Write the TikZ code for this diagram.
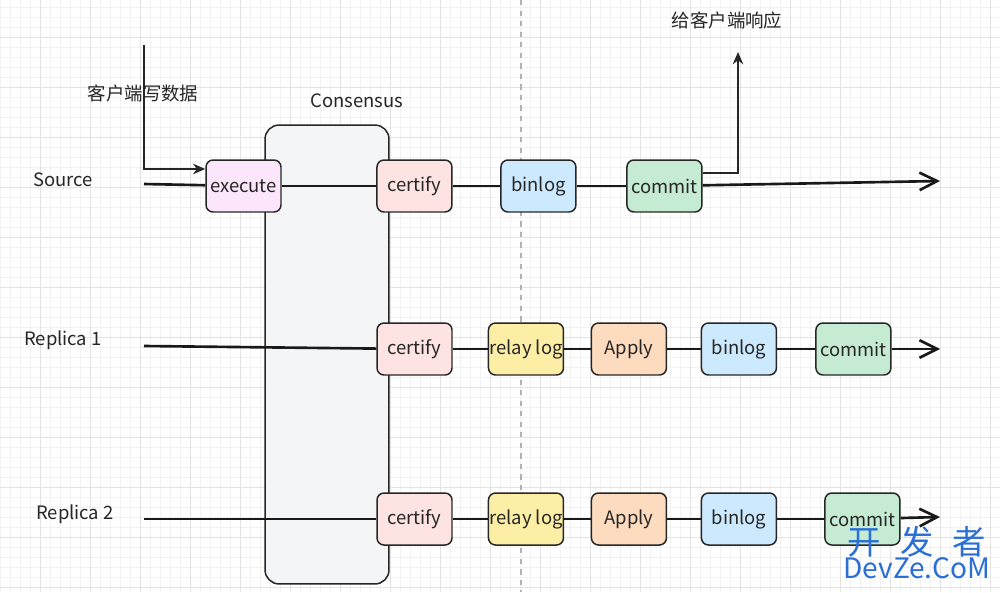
\documentclass[tikz,border=0pt]{standalone}
\usepackage{fontspec}
\setmainfont{Noto Sans CJK SC}
\usetikzlibrary{positioning,arrows.meta}
\definecolor{txt}{HTML}{262626}
\definecolor{exfill}{HTML}{FCE6FB}
\definecolor{certfill}{HTML}{FDE4E2}
\definecolor{binfill}{HTML}{CDE9FD}
\definecolor{comfill}{HTML}{C6EBD3}
\definecolor{relayfill}{HTML}{FDEEA6}
\definecolor{applyfill}{HTML}{FDDBBF}
\definecolor{consfill}{HTML}{F3F5F7}
\definecolor{wmblue}{HTML}{2A6FD6}

\begin{document}
\begin{tikzpicture}[x=0.02cm,y=-0.02cm,on grid,
  font=\fontsize{10.5}{12}\selectfont,
  stage/.style={draw=txt,line width=0.85pt,rounded corners=4pt,minimum width=1.5cm,
    minimum height=1.04cm,inner sep=0pt,text=txt},
  lbl/.style={text=txt,inner sep=0pt},
  flow/.style={line width=1.5pt,draw=black!90},
  thinarrow/.style={line width=0.8pt,draw=txt,-{Stealth[length=7pt,width=6pt]}},
  gridminor/.style={draw=black!5,line width=0.4pt},
  gridmajor/.style={draw=black!11,line width=0.5pt}]
\useasboundingbox (0,0) rectangle (1000,592);
\fill[white] (0,0) rectangle (1000,592);
% background grid
\foreach \x in {0,10,...,1000} \draw[gridminor] (\x,0) -- (\x,592);
\foreach \y in {7,17,...,587} \draw[gridminor] (0,\y) -- (1000,\y);
\foreach \x in {40,90,...,990} \draw[gridmajor] (\x,0) -- (\x,592);
\foreach \y in {37,87,...,587} \draw[gridmajor] (0,\y) -- (1000,\y);
\draw[black!30,dashed,line width=0.6pt] (521,0) -- (521,592);

% consensus block
\node[draw=txt,line width=0.85pt,fill=consfill,rounded corners=8pt,minimum width=2.48cm,
  minimum height=9.18cm] (cons) at (327,354.5) {};
\node[lbl] (cons_l) at (357,101) {Consensus};

% source
\node[lbl] (src) at (63,180) {Source};
\node[stage,fill=exfill] (s_0) at (243.5,186) {execute};
\node[stage,fill=certfill] (s_1) [right=3.42cm of s_0] {certify};
\node[stage,fill=binfill] (s_2) [right=2.48cm of s_1] {binlog};
\node[stage,fill=comfill] (s_3) [right=2.52cm of s_2] {commit};
\coordinate (s_in) at (144,184);
\coordinate (s_out) at (940,181);

% replica 1
\node[lbl] (r1) at (63,340) {Replica 1};
\node[stage,fill=certfill] (a_1) at (414.5,349) {certify};
\node[stage,fill=relayfill] (a_2) [right=2.23cm of a_1] {relay log};
\node[stage,fill=applyfill] (a_3) [right=2.06cm of a_2] {Apply};
\node[stage,fill=binfill] (a_4) [right=2.2cm of a_3] {binlog};
\node[stage,fill=comfill] (a_5) [right=2.29cm of a_4] {commit};
\coordinate (a_in) at (144,346);
\coordinate (a_out) at (940,349);

% replica 2
\node[lbl] (r2) at (75,514) {Replica 2};
\node[stage,fill=certfill] (b_1) at (414.5,519) {certify};
\node[stage,fill=relayfill] (b_2) [right=2.23cm of b_1] {relay log};
\node[stage,fill=applyfill] (b_3) [right=2.06cm of b_2] {Apply};
\node[stage,fill=binfill] (b_4) [right=2.2cm of b_3] {binlog};
\node[stage,fill=comfill] (b_5) [right=2.47cm of b_4] {commit};
\coordinate (b_in) at (144,519);
\coordinate (b_out) at (940,517);

\path[flow]
(s_in) edge (s_0) (s_0) edge (s_1) (s_1) edge (s_2) (s_2) edge (s_3)
(a_in) edge (a_1) (a_1) edge (a_2) (a_2) edge (a_3) (a_3) edge (a_4) (a_4) edge (a_5)
(b_in) edge (b_1) (b_1) edge (b_2) (b_2) edge (b_3) (b_3) edge (b_4) (b_4) edge (b_5);
\path[flow,-{Straight Barb[length=10pt,width=10pt,line width=1.5pt]}]
(s_3) edge (s_out) (a_5) edge (a_out) (b_5) edge (b_out);

% client request / response
\coordinate (cin) at (144,45);
\draw[thinarrow] (cin) |- ([yshift=0.34cm]s_0.west);
\node[lbl] (req) at (143,93) {客户端写数据};
\coordinate (resp) at (738,52);
\draw[thinarrow] ([yshift=0.26cm]s_3.east) -| (resp);
\node[lbl] (resp_l) at (727,20) {给客户端响应};

% watermark
\node[text=wmblue,inner sep=0pt,anchor=base,text depth=0pt,font=\fontsize{19}{20}\selectfont] (wm1) at (917,554) {开\hspace{0.38cm}发\hspace{0.38cm}者};
\node[text=wmblue,inner sep=0pt,anchor=base,text height=11.5pt,font=\fontsize{16}{18}\selectfont] (wm2) at (917,578) {DevZe.CoM};
\end{tikzpicture}
\end{document}
